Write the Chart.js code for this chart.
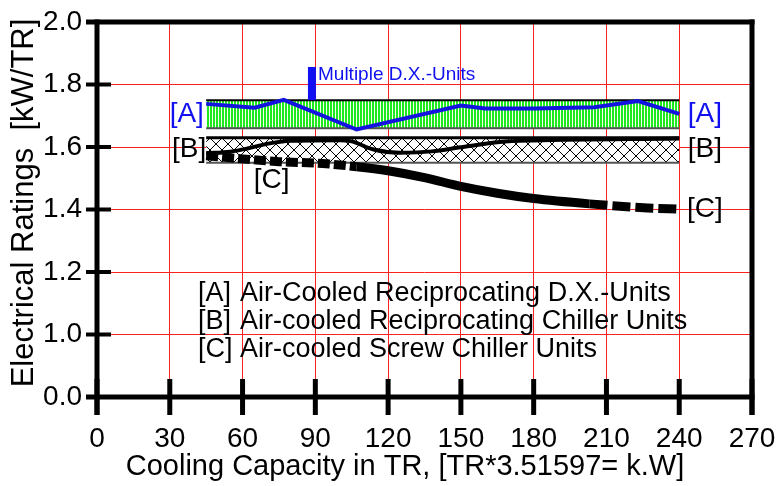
<!DOCTYPE html>
<html>
<head>
<meta charset="utf-8">
<script src="https://cdn.jsdelivr.net/npm/chart.js@4.4.1/dist/chart.umd.min.js"></script>
<style>
  html, body { margin: 0; padding: 0; background: #fff; }
  canvas { display: block; }
</style>
</head>
<body>
<canvas id="grafico" width="781" height="486"></canvas>
<script>
// eixo y quebrado: 0.0 e depois 1.0 ate 2.0
var yTickLabels = ['0.0', '1.0', '1.2', '1.4', '1.6', '1.8', '2.0'];

// [A] Air-Cooled Reciprocating D.X.-Units
var lineAX = [45, 65, 77, 107, 150, 160, 180, 205, 223, 240];
var lineAY = [1.738, 1.726, 1.751, 1.656, 1.733, 1.723, 1.723, 1.727, 1.747, 1.706];

// [B] Air-cooled Reciprocating Chiller Units
var lineBX = [45, 55, 62, 70, 80, 100, 105, 114, 125, 138, 150, 166, 180, 240];
var lineBY = [1.58, 1.585, 1.595, 1.61, 1.62, 1.622, 1.618, 1.592, 1.582, 1.586, 1.599, 1.616, 1.621, 1.627];

// [C] Air-cooled Screw Chiller Units
var lineCX = [45, 60, 75, 93, 107, 120, 135, 150, 165, 180, 203, 227, 240];
var lineCY = [1.572, 1.562, 1.553, 1.547, 1.537, 1.524, 1.502, 1.474, 1.452, 1.435, 1.418, 1.405, 1.401];

// faixas
var bandX = [45, 240];
var bandATop = [1.75, 1.75];
var bandABottom = [1.66, 1.66];
var bandBTop = [1.63, 1.63];
var bandBBottom = [1.55, 1.55];

// marca "Multiple D.X.-Units"
var multiX = [88.6, 88.6];
var multiY = [1.75, 1.856];

var legendKeys = ['[A]', '[B]', '[C]'];
var legendNames = ['Air-Cooled Reciprocating D.X.-Units', 'Air-cooled Reciprocating Chiller Units', 'Air-cooled Screw Chiller Units'];

var FONT = "'Liberation Sans', Arial, sans-serif";
var FONT_NARROW = "'Liberation Sans Narrow', 'Arial Narrow', 'Liberation Sans', Arial, sans-serif";

function brk(v) {
  return v >= 1 ? v - 0.8 : v * 0.2;
}

function pts(xs, ys) {
  return xs.map(function(x, i) { return { x: x, y: brk(ys[i]) }; });
}

function makePattern(w, h, draw) {
  var c = document.createElement('canvas');
  c.width = w; c.height = h;
  var g = c.getContext('2d');
  draw(g, w, h);
  return g.createPattern(c, 'repeat');
}

var greenStripes = makePattern(3, 4, function(g, w, h) {
  g.fillStyle = '#f4fff0';
  g.fillRect(0, 0, w, h);
  g.fillStyle = '#1ee81e';
  g.fillRect(0, 0, 2, h);
});

var crossHatch = makePattern(12, 12, function(g, w, h) {
  g.fillStyle = '#ffffff';
  g.fillRect(0, 0, w, h);
  g.strokeStyle = '#000';
  g.lineWidth = 1;
  g.beginPath();
  g.moveTo(0, 0); g.lineTo(w, h);
  g.moveTo(0, h); g.lineTo(w, 0);
  g.stroke();
});

var moldura = {
  id: 'moldura',
  afterDatasetsDraw: function(chart) {
    var ctx = chart.ctx, a = chart.chartArea;
    var xs = chart.scales.x, ys = chart.scales.y;

    function seg(x1, y1, x2, y2, w) {
      ctx.lineWidth = w;
      ctx.beginPath();
      ctx.moveTo(x1, y1);
      ctx.lineTo(x2, y2);
      ctx.stroke();
    }

    ctx.save();
    ctx.strokeStyle = '#000';
    ctx.lineCap = 'butt';
    seg(86, a.top, a.right + 2.5, a.top, 5);
    seg(86, a.bottom, a.right + 2.5, a.bottom, 5);
    seg(a.left, a.top - 2.5, a.left, a.bottom + 18, 5);
    seg(a.right, a.top - 2.5, a.right, a.bottom + 18, 5);
    ys.ticks.forEach(function(t) {
      var y = ys.getPixelForValue(t.value);
      seg(86, y, 111, y, 4);
    });
    xs.ticks.forEach(function(t) {
      var x = xs.getPixelForValue(t.value);
      seg(x, a.bottom - 18, x, a.bottom + 18, 5);
    });

    function txt(s, x, y, color, size, align) {
      ctx.fillStyle = color;
      ctx.font = size + 'px ' + FONT;
      ctx.textAlign = align || 'center';
      ctx.textBaseline = 'middle';
      ctx.fillText(s, x, y);
    }
    function px(v) { return xs.getPixelForValue(v); }
    function py(v) { return ys.getPixelForValue(brk(v)); }

    var blue = '#1010f0';
    txt('[A]', px(37), py(1.704), blue, 28);
    txt('[A]', px(250.6), py(1.704), blue, 28);
    txt('[B]', px(38), py(1.592), '#000', 28);
    txt('[B]', px(250.6), py(1.592), '#000', 28);
    txt('[C]', px(72), py(1.492), '#000', 28);
    txt('[C]', px(250.6), py(1.402), '#000', 28);
    txt('Multiple D.X.-Units', px(91.1), py(1.83), blue, 19, 'left');

    for (var i = 0; i < legendKeys.length; i++) {
      var ly = 294 + i * 28;
      txt(legendKeys[i], 198, ly, '#000', 27, 'left');
      txt(legendNames[i], 240, ly, '#000', 27, 'left');
    }

    // titulos dos eixos
    txt('Cooling Capacity in TR, [TR*3.51597= k.W]', 405, 467, '#000', 29);
    ctx.save();
    ctx.translate(24, 203);
    ctx.rotate(-Math.PI / 2);
    txt('Electrical Ratings  [kW/TR]', 0, 0, '#000', 31);
    ctx.restore();

    ctx.restore();
  }
};

var ctx = document.getElementById('grafico').getContext('2d');
var chart = new Chart(ctx, {
  type: 'line',
  data: {
    datasets: [
      {
        data: pts(multiX, multiY),
        borderColor: '#1010f0',
        borderWidth: 8,
        pointRadius: 0,
        order: 0
      },
      {
        data: pts(lineAX, lineAY),
        borderColor: '#1414e0',
        borderWidth: 4,
        pointRadius: 0,
        tension: 0,
        order: 1
      },
      {
        data: pts(lineCX, lineCY),
        borderColor: '#000',
        borderWidth: 9,
        pointRadius: 0,
        cubicInterpolationMode: 'monotone',
        segment: {
          borderDash: function(c) {
            if (c.p1.parsed.x <= 114) return [12, 4];
            if (c.p0.parsed.x >= 203) return [18, 5];
            return undefined;
          }
        },
        order: 2
      },
      {
        data: pts(lineBX, lineBY),
        borderColor: '#000',
        borderWidth: 4,
        pointRadius: 0,
        cubicInterpolationMode: 'monotone',
        order: 3
      },
      {
        data: pts(bandX, bandATop),
        borderColor: '#000',
        borderWidth: 2,
        pointRadius: 0,
        fill: false,
        order: 5
      },
      {
        data: pts(bandX, bandABottom),
        borderColor: '#555',
        borderWidth: 2,
        pointRadius: 0,
        fill: '-1',
        backgroundColor: greenStripes,
        order: 6
      },
      {
        data: pts(bandX, bandBTop),
        borderColor: '#000',
        borderWidth: 3,
        pointRadius: 0,
        fill: false,
        order: 7
      },
      {
        data: pts(bandX, bandBBottom),
        borderColor: '#555',
        borderWidth: 2,
        pointRadius: 0,
        fill: '-1',
        backgroundColor: crossHatch,
        order: 8
      }
    ]
  },
  options: {
    responsive: false,
    animation: false,
    layout: { padding: { top: 22, right: 29, left: 0, bottom: 0 } },
    plugins: { legend: { display: false }, tooltip: { enabled: false } },
    scales: {
      x: {
        type: 'linear',
        min: 0,
        max: 270,
        afterFit: function(s) {
          s.height = 89;
          s.paddingLeft = 0; s.paddingRight = 0;
        },
        border: { display: false },
        grid: {
          drawTicks: false,
          lineWidth: 1,
          color: function(c) {
            var v = c.tick.value;
            return (v > 0 && v < 270) ? '#ff2020' : 'rgba(0,0,0,0)';
          }
        },
        ticks: {
          stepSize: 30,
          autoSkip: false,
          maxRotation: 0,
          padding: 25,
          color: '#000',
          font: { family: FONT_NARROW, size: 28 }
        }
      },
      y: {
        type: 'linear',
        min: 0,
        max: 1.2,
        afterFit: function(s) {
          s.width = 97;
          s.paddingTop = 0; s.paddingBottom = 0;
        },
        border: { display: false },
        grid: {
          drawTicks: false,
          lineWidth: 1,
          color: function(c) {
            var i = c.index;
            return (i > 0 && i < yTickLabels.length - 1) ? '#ff2020' : 'rgba(0,0,0,0)';
          }
        },
        ticks: {
          stepSize: 0.2,
          padding: 15,
          color: '#000',
          font: { family: FONT, size: 28 },
          callback: function(v, i) { return yTickLabels[i]; }
        }
      }
    }
  },
  plugins: [moldura]
});
</script>
</body>
</html>
